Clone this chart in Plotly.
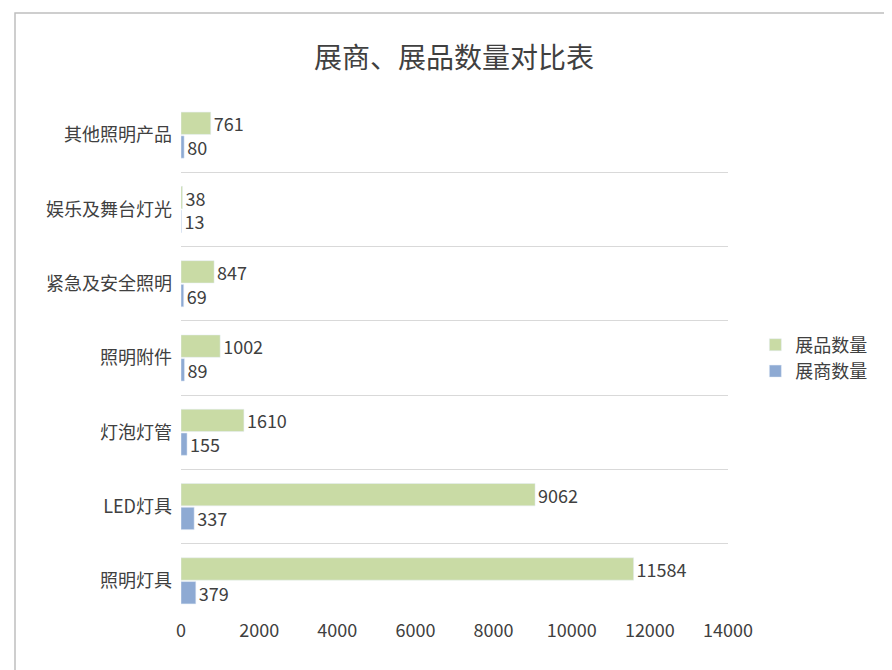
import plotly.graph_objects as go

categories = ['照明灯具', 'LED灯具', '灯泡灯管', '照明附件', '紧急及安全照明', '娱乐及舞台灯光', '其他照明产品']
exhibits = [11584, 9062, 1610, 1002, 847, 38, 761]
exhibitors = [379, 337, 155, 89, 69, 13, 80]

font = 'Microsoft YaHei, Noto Sans CJK SC, sans-serif'

fig = go.Figure()
fig.add_trace(go.Bar(y=categories, x=exhibitors, name='展商数量', orientation='h',
                     marker_color='#8eaad3', text=exhibitors, textposition='outside',
                     constraintext='none',
                     textfont=dict(size=18, color='#404040'), cliponaxis=False))
fig.add_trace(go.Bar(y=categories, x=exhibits, name='展品数量', orientation='h',
                     marker_color='#c9dba5', text=exhibits, textposition='outside',
                     constraintext='none',
                     textfont=dict(size=18, color='#404040'), cliponaxis=False))

fig.update_layout(
    width=892, height=670,
    barmode='group', bargap=0.36, bargroupgap=0.06,
    uniformtext=dict(minsize=18, mode=False),
    plot_bgcolor='white', paper_bgcolor='white',
    font=dict(family=font, size=18, color='#404040'),
    title=dict(text='展商、展品数量对比表', x=0.5, xanchor='center', y=0.94,
               font=dict(size=28, color='#404040')),
    margin=dict(l=173, r=172, t=90, b=60),
    legend=dict(x=1.05, y=0.5, yanchor='middle', traceorder='reversed',
                font=dict(size=18, color='#404040')),
    xaxis=dict(range=[0, 14000], dtick=2000, tickformat='d', showgrid=False,
               zeroline=False, tickfont=dict(size=18), automargin=False),
    yaxis=dict(categoryorder='array', categoryarray=categories, tickson='boundaries',
               showgrid=True, gridcolor='#d9d9d9', gridwidth=1, ticks='',
               showline=False, tickfont=dict(size=18), ticksuffix='  ', automargin=False),
    shapes=[dict(type='rect', xref='paper', yref='paper',
                 x0=-166 / 547, x1=1 + 166 / 547, y0=-55 / 520, y1=1 + 85 / 520,
                 line=dict(color='#bfbfbf', width=1.5))],
)

fig.write_html('out.html')
